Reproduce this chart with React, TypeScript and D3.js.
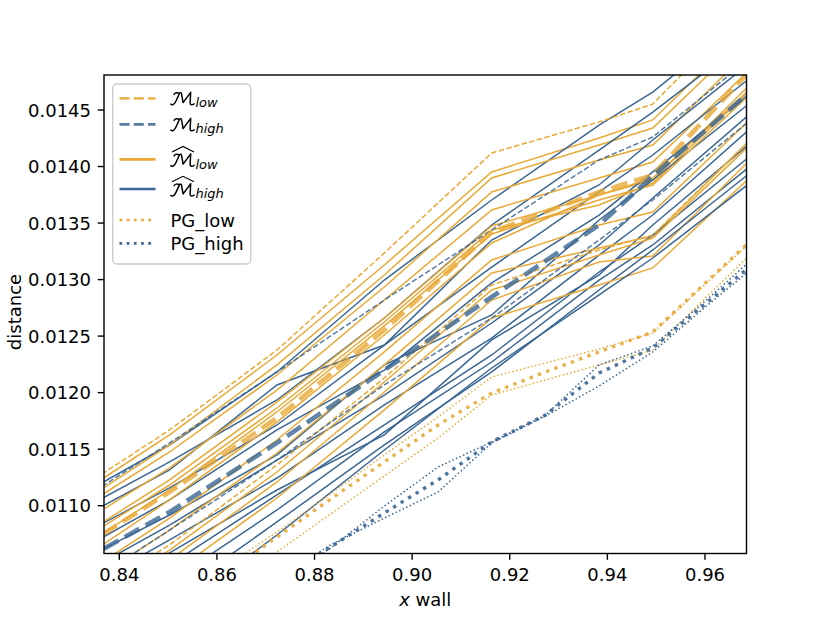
import * as d3 from "d3";
import React from "react";

// figure + axes box (pixels)
const W = 830;
const H = 623;
const AX = { l: 104, r: 746.5, t: 75, b: 553.5 };

const ORANGE = "#E9A936";
const BLUE = "#3A6694";

// x positions of the samples
const xCoarse = [0.8283, 0.8503, 0.8723, 0.8943, 0.9163, 0.9383, 0.9493, 0.9713];
const xFine = [0.8283, 0.8393, 0.8503, 0.8613, 0.8723, 0.8833, 0.8943, 0.9053, 0.9163, 0.9273, 0.9383, 0.9493, 0.9603, 0.9713];

const xTicks = [0.84, 0.86, 0.88, 0.9, 0.92, 0.94, 0.96];
const yTicks = [0.011, 0.0115, 0.012, 0.0125, 0.013, 0.0135, 0.014, 0.0145];

// mean curves (thick dashed)
const mLowMean = [0.010520, 0.011121, 0.011776, 0.012554, 0.013421, 0.013775, 0.013925, 0.014942];
const mHighMean = [0.010414, 0.010944, 0.011555, 0.012200, 0.012846, 0.013483, 0.013916, 0.014739];

// individual runs, hat models (thin solid)
const hatLow = [
  [0.011006, 0.011626, 0.012333, 0.013129, 0.013952, 0.014252, 0.014412, 0.015340],
  [0.010918, 0.011537, 0.012245, 0.013041, 0.013899, 0.014190, 0.014341, 0.015252],
  [0.010874, 0.011475, 0.012156, 0.012934, 0.013775, 0.014058, 0.014190, 0.015119],
  [0.010741, 0.011334, 0.012023, 0.012819, 0.013616, 0.013899, 0.014040, 0.014942],
  [0.010626, 0.011228, 0.011917, 0.012660, 0.013474, 0.013748, 0.013881, 0.014810],
  [0.010591, 0.011183, 0.011864, 0.012625, 0.013439, 0.013660, 0.013854, 0.014765],
  [0.010520, 0.011139, 0.011829, 0.012590, 0.013403, 0.013704, 0.013837, 0.014721],
  [0.010414, 0.011051, 0.011740, 0.012510, 0.013324, 0.013748, 0.013899, 0.014765],
  [0.010272, 0.010891, 0.011581, 0.012360, 0.013173, 0.013483, 0.013598, 0.014500],
  [0.010166, 0.010785, 0.011466, 0.012245, 0.013058, 0.013279, 0.013386, 0.014323],
  [0.010007, 0.010608, 0.011298, 0.012094, 0.012908, 0.013217, 0.013368, 0.014279],
  [0.009918, 0.010520, 0.011210, 0.012006, 0.012819, 0.013156, 0.013209, 0.014146],
  [0.009768, 0.010387, 0.011068, 0.011847, 0.012660, 0.012952, 0.013103, 0.013987],
];
const hatHigh = [
  [0.011006, 0.011537, 0.012183, 0.012996, 0.013704, 0.014367, 0.014659, 0.015429],
  [0.010874, 0.011387, 0.011935, 0.012660, 0.013483, 0.014146, 0.014482, 0.015208],
  [0.010803, 0.011316, 0.012068, 0.012421, 0.013350, 0.013837, 0.014235, 0.014987],
  [0.010653, 0.011157, 0.011714, 0.012421, 0.013111, 0.013775, 0.014102, 0.014854],
  [0.010520, 0.011051, 0.011670, 0.012200, 0.012970, 0.013571, 0.013952, 0.014721],
  [0.010432, 0.010918, 0.011449, 0.012245, 0.012687, 0.013527, 0.013881, 0.014633],
  [0.010299, 0.010829, 0.011404, 0.011979, 0.012616, 0.013306, 0.013722, 0.014544],
  [0.010166, 0.010697, 0.011245, 0.011891, 0.012483, 0.013217, 0.013571, 0.014412],
  [0.010033, 0.010582, 0.011139, 0.011626, 0.012466, 0.013041, 0.013483, 0.014279],
  [0.009901, 0.010476, 0.011095, 0.011714, 0.012333, 0.013067, 0.013394, 0.014164],
  [0.009724, 0.010325, 0.010962, 0.011652, 0.012271, 0.012996, 0.013306, 0.014075],
  [0.009591, 0.010184, 0.010856, 0.011537, 0.012183, 0.012908, 0.013262, 0.014014],
  [0.009370, 0.010033, 0.010741, 0.011493, 0.012218, 0.012864, 0.013191, 0.013925],
];

// individual runs, M (thin dashed)
const mLowRuns = [
  [0.011051, 0.011670, 0.012377, 0.013235, 0.014120, 0.014394, 0.014553, 0.015517],
  [0.010078, 0.010653, 0.011360, 0.012130, 0.012952, 0.013262, 0.013394, 0.014323],
];
const mHighRuns = [
  [0.010944, 0.011555, 0.012183, 0.012819, 0.013439, 0.014058, 0.014261, 0.015031],
  [0.010166, 0.010785, 0.011404, 0.012068, 0.012660, 0.013350, 0.013704, 0.014482],
];

// PG baseline (dotted), on the fine grid
const pgLowMean = [0.009370, 0.009724, 0.010060, 0.010387, 0.010723, 0.011059, 0.011387, 0.011714, 0.011997, 0.012183, 0.012360, 0.012536, 0.012979, 0.013421];
const pgLowRuns = [
  [0.009414, 0.009768, 0.010122, 0.010449, 0.010767, 0.011104, 0.011449, 0.011785, 0.012138, 0.012262, 0.012386, 0.012528, 0.012970, 0.013412],
  [0.009282, 0.009618, 0.009945, 0.010255, 0.010591, 0.010927, 0.011263, 0.011599, 0.011979, 0.012112, 0.012245, 0.012377, 0.012846, 0.013306],
];
const pgHighMean = [0.008928, 0.009282, 0.009618, 0.009989, 0.010343, 0.010635, 0.010936, 0.011228, 0.011564, 0.011802, 0.012174, 0.012395, 0.012793, 0.013191];
const pgHighRuns = [
  [0.008883, 0.009237, 0.009591, 0.009971, 0.010325, 0.010626, 0.010997, 0.011342, 0.011564, 0.011802, 0.012245, 0.012413, 0.012819, 0.013244],
  [0.008972, 0.009326, 0.009653, 0.010007, 0.010361, 0.010653, 0.010891, 0.011121, 0.011555, 0.011793, 0.012059, 0.012360, 0.012766, 0.013156],
];

const FONT = "DejaVu Sans, sans-serif";

// calligraphic M drawn as a stroke, origin at baseline-left
const CAL_M =
  "M0.3,-0.8 C2,0.6 4,-0.6 5.6,-4.2 L8.8,-11.2 C9.4,-12.7 10.6,-12.8 11,-11.3 L12.6,-2.4 L20.2,-12.6 L19.6,-2.2 C19.5,0 21.2,0.4 23.6,-1.2 M8.8,-11.2 C7,-12.8 4.5,-12.4 3.6,-10.6";

const LegendLabel: React.FC<{ x: number; y: number; sub: string; hat?: boolean }> = ({ x, y, sub, hat }) => (
  <g>
    <path d={CAL_M} transform={`translate(${x},${y})`} fill="none" stroke="#000" strokeWidth={1.5} strokeLinecap="round" strokeLinejoin="round" />
    {hat && <path d={`M${x + 1.5} ${y - 14.5} L${x + 12.5} ${y - 20} L${x + 23.5} ${y - 14.5}`} fill="none" stroke="#000" strokeWidth={1.2} />}
    <text x={x + 25} y={y + 2} fontSize={13} fontStyle="italic">{sub}</text>
  </g>
);

const App: React.FC = () => {
  const x = d3.scaleLinear().domain([0.836865, 0.968502]).range([AX.l, AX.r]);
  const y = d3.scaleLinear().domain([0.0105772, 0.0148096]).range([AX.b, AX.t]);

  const pathFor = (xs: number[]) =>
    d3.line<number>()
      .x((_, i) => x(xs[i]))
      .y((d) => y(d));
  const coarse = pathFor(xCoarse);
  const fine = pathFor(xFine);

  const thinW = 1.5;
  const dashedThin = "5.5 2.4";
  const dottedThin = "1.5 2.4";

  // legend rows
  const lx0 = 119.5;
  const lx1 = 155.5;
  const tx = 170.5;

  return (
    <div style={{ position: "absolute", left: 0, top: 0 }}>
      <svg width={W} height={H} style={{ display: "block", background: "#fff" }}>
        <defs>
          <clipPath id="plotClip">
            <rect x={AX.l} y={AX.t} width={AX.r - AX.l} height={AX.b - AX.t} />
          </clipPath>
        </defs>
        <rect width={W} height={H} fill="#fff" />

        <g clipPath="url(#plotClip)" fill="none">
          {hatLow.map((row, i) => (
            <g key={"p" + i}>
              <path d={coarse(row) || ""} stroke={ORANGE} strokeWidth={thinW} />
              <path d={coarse(hatHigh[i]) || ""} stroke={BLUE} strokeWidth={thinW} />
            </g>
          ))}
          {mLowRuns.map((row, i) => (
            <path key={"ml" + i} d={coarse(row) || ""} stroke={ORANGE} strokeWidth={thinW} strokeDasharray={dashedThin} />
          ))}
          {mHighRuns.map((row, i) => (
            <path key={"mh" + i} d={coarse(row) || ""} stroke={BLUE} strokeWidth={thinW} strokeDasharray={dashedThin} opacity={0.85} />
          ))}
          {pgLowRuns.map((row, i) => (
            <path key={"gl" + i} d={fine(row) || ""} stroke={ORANGE} strokeWidth={thinW} strokeDasharray={dottedThin} />
          ))}
          {pgHighRuns.map((row, i) => (
            <path key={"gh" + i} d={fine(row) || ""} stroke={BLUE} strokeWidth={thinW} strokeDasharray={dottedThin} />
          ))}
          <path d={fine(pgLowMean) || ""} stroke={ORANGE} strokeWidth={3.4} strokeDasharray="3.4 5.4" opacity={0.9} />
          <path d={fine(pgHighMean) || ""} stroke={BLUE} strokeWidth={3.4} strokeDasharray="3.4 5.4" opacity={0.9} />
          <path d={coarse(mLowMean) || ""} stroke={ORANGE} strokeWidth={4.6} strokeDasharray="16.7 7.2" opacity={0.8} />
          <path d={coarse(mHighMean) || ""} stroke={BLUE} strokeWidth={4.6} strokeDasharray="16.7 7.2" opacity={0.8} />
        </g>

        {/* spines */}
        <rect x={AX.l} y={AX.t} width={AX.r - AX.l} height={AX.b - AX.t} fill="none" stroke="#000" strokeWidth={1.4} />

        {/* axes text */}
        <g fontFamily={FONT} fontSize={18} fill="#000">
          {xTicks.map((t) => (
            <g key={"xt" + t}>
              <line x1={x(t)} x2={x(t)} y1={AX.b} y2={AX.b + 6.3} stroke="#000" strokeWidth={1.4} />
              <text x={x(t)} y={581} textAnchor="middle">{d3.format(".2f")(t)}</text>
            </g>
          ))}
          {yTicks.map((t) => (
            <g key={"yt" + t}>
              <line x1={AX.l - 6.3} x2={AX.l} y1={y(t)} y2={y(t)} stroke="#000" strokeWidth={1.4} />
              <text x={91} y={y(t) + 6.5} textAnchor="end">{d3.format(".4f")(t)}</text>
            </g>
          ))}
          <text x={(AX.l + AX.r) / 2} y={606} textAnchor="middle">
            <tspan fontStyle="italic">x</tspan> wall
          </text>
          <text transform={`translate(20.5,312) rotate(-90)`} textAnchor="middle">distance</text>
        </g>

        {/* legend */}
        <g fontFamily={FONT} fill="#000">
          <rect x={112.7} y={84} width={138} height={180} rx={4} fill="#fff" fillOpacity={0.8} stroke="#cccccc" strokeWidth={1.4} />
          <line x1={lx0} x2={lx1} y1={98.3} y2={98.3} stroke={ORANGE} strokeWidth={2.7} strokeDasharray="10 4.3" opacity={0.85} />
          <line x1={lx0} x2={lx1} y1={124.3} y2={124.3} stroke={BLUE} strokeWidth={2.7} strokeDasharray="10 4.3" opacity={0.85} />
          <line x1={lx0} x2={lx1} y1={159.3} y2={159.3} stroke={ORANGE} strokeWidth={2.7} />
          <line x1={lx0} x2={lx1} y1={189} y2={189} stroke={BLUE} strokeWidth={2.7} />
          <line x1={lx0} x2={lx1} y1={220} y2={220} stroke={ORANGE} strokeWidth={2.7} strokeDasharray="2.7 4.5" />
          <line x1={lx0} x2={lx1} y1={243.3} y2={243.3} stroke={BLUE} strokeWidth={2.7} strokeDasharray="2.7 4.5" />

          <LegendLabel x={tx} y={105} sub="low" />
          <LegendLabel x={tx} y={131} sub="high" />
          <LegendLabel x={tx} y={166.5} sub="low" hat />
          <LegendLabel x={tx} y={196.3} sub="high" hat />
          <text x={tx} y={226.7} fontSize={18}>PG_low</text>
          <text x={tx} y={250} fontSize={18}>PG_high</text>
        </g>
      </svg>
    </div>
  );
};

export default App;
